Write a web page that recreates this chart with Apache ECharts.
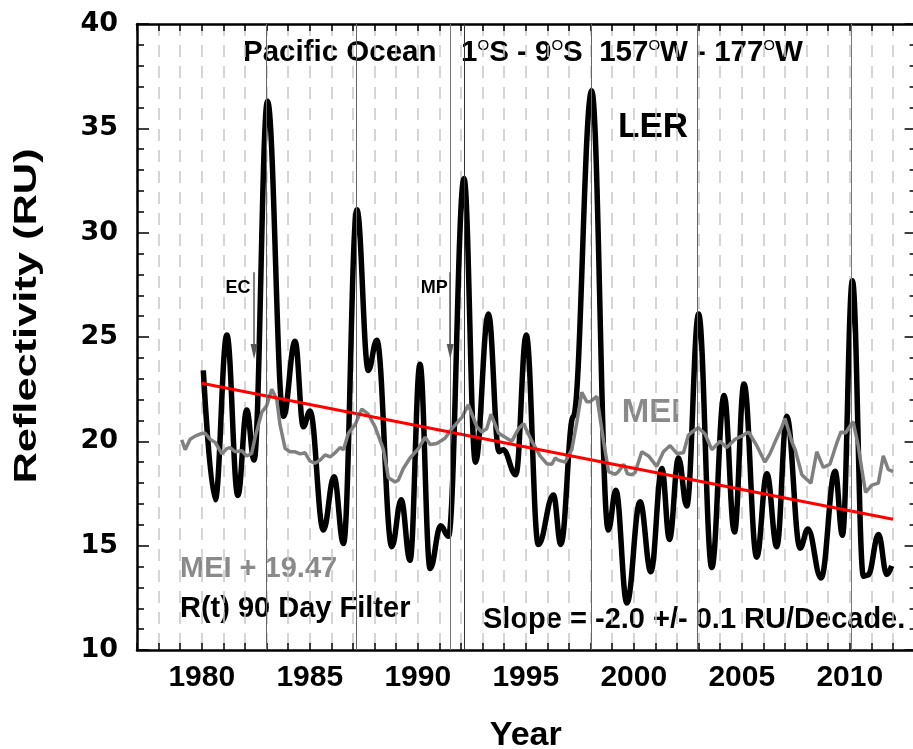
<!DOCTYPE html>
<html>
<head>
<meta charset="utf-8">
<script src="https://cdn.jsdelivr.net/npm/echarts@6/dist/echarts.min.js"></script>
<style>
  html, body { margin: 0; padding: 0; background: #fff; }
  #chart { width: 913px; height: 749px; }
</style>
</head>
<body>
<div id="chart"></div>
<script>
// LER, 90 day filter (turning points)
const lerYears = [1980.07, 1980.62, 1981.16, 1981.67, 1982.08, 1982.42, 1983.04, 1983.78, 1984.32, 1984.70,
  1985.01, 1985.63, 1986.12, 1986.56, 1987.18, 1987.71, 1988.10, 1988.80, 1989.23, 1989.64,
  1990.10, 1990.57, 1991.06, 1991.42, 1992.14, 1992.67, 1993.27, 1993.76, 1993.95, 1994.54,
  1995.02, 1995.58, 1996.28, 1996.62, 1997.20, 1998.05, 1998.82, 1999.17, 1999.68, 2000.29,
  2000.79, 2001.30, 2001.65, 2002.07, 2002.45, 2003.00, 2003.61, 2004.18, 2004.66, 2005.10,
  2005.69, 2006.16, 2006.62, 2007.08, 2007.70, 2008.06, 2008.67, 2009.32, 2009.66, 2010.12,
  2010.63, 2010.85, 2011.33, 2011.71, 2011.94]
const lerValues = [23.4, 17.2, 25.1, 17.4, 21.5, 19.1, 36.3, 21.2, 24.8, 20.7,
  21.45, 15.75, 18.3, 15.1, 31.1, 23.4, 24.85, 14.95, 17.2, 14.3,
  23.7, 13.9, 15.95, 15.45, 32.6, 19.0, 26.1, 19.5, 19.6, 18.4,
  25.1, 15.05, 17.43, 15.06, 21.2, 36.8, 15.75, 17.65, 12.25, 17.1,
  13.75, 18.7, 15.3, 19.2, 16.9, 26.1, 13.95, 22.2, 15.65, 22.75,
  14.45, 18.45, 14.95, 21.2, 14.88, 15.8, 13.45, 18.57, 15.5, 27.7,
  13.53, 13.6, 15.53, 13.62, 14.03]

// MEI + 19.47
const meiYears = [1979.07, 1979.23, 1979.46, 1979.69, 1979.92, 1980.15, 1980.38, 1980.62, 1980.93, 1981.16,
  1981.31, 1981.54, 1981.85, 1982.08, 1982.31, 1982.47, 1982.78, 1983.00, 1983.24, 1983.47,
  1983.62, 1983.86, 1984.09, 1984.32, 1984.55, 1984.78, 1985.01, 1985.24, 1985.48, 1985.71,
  1985.94, 1986.17, 1986.40, 1986.56, 1986.79, 1987.10, 1987.41, 1987.71, 1988.02, 1988.41,
  1988.64, 1988.95, 1989.10, 1989.33, 1989.64, 1990.03, 1990.34, 1990.57, 1990.88, 1991.26,
  1991.57, 1992.04, 1992.34, 1992.73, 1992.96, 1993.19, 1993.39, 1993.73, 1994.04, 1994.35,
  1994.66, 1994.89, 1995.28, 1995.66, 1995.97, 1996.20, 1996.36, 1996.51, 1996.82, 1997.13,
  1997.36, 1997.59, 1997.82, 1997.98, 1998.29, 1998.60, 1998.83, 1999.14, 1999.29, 1999.54,
  1999.70, 1999.91, 2000.06, 2000.37, 2000.68, 2001.06, 2001.37, 2001.68, 2001.99, 2002.30,
  2002.53, 2002.76, 2002.99, 2003.30, 2003.61, 2003.99, 2004.30, 2004.69, 2005.08, 2005.31,
  2005.69, 2006.07, 2006.30, 2006.55, 2006.84, 2007.00, 2007.31, 2007.47, 2007.78, 2007.98,
  2008.20, 2008.47, 2008.77, 2009.08, 2009.39, 2009.59, 2009.80, 2010.15, 2010.38, 2010.55,
  2010.73, 2011.02, 2011.32, 2011.55, 2011.78, 2012.00]
const meiValues = [20.07, 19.6, 20.1, 20.25, 20.35, 20.4, 20.1, 19.95, 19.4, 19.65,
  19.7, 19.5, 19.55, 19.3, 19.42, 20.2, 21.4, 21.7, 22.5, 22.0,
  20.8, 19.65, 19.5, 19.5, 19.4, 19.45, 19.05, 18.95, 19.1, 19.35,
  19.25, 19.45, 19.7, 19.6, 20.4, 20.8, 21.55, 21.3, 20.7, 19.6,
  18.25, 18.05, 18.15, 18.7, 19.2, 19.65, 20.2, 19.85, 19.9, 20.15,
  20.6, 21.15, 21.75, 20.7, 20.45, 20.6, 21.3, 20.4, 20.2, 20.0,
  20.6, 20.85, 20.0, 19.3, 18.93, 18.9, 19.2, 19.1, 19.0, 19.6,
  20.9, 22.35, 21.9, 21.9, 22.15, 20.0, 18.55, 18.42, 18.55, 18.9,
  18.45, 18.4, 18.5, 19.5, 19.3, 18.8, 19.5, 19.8, 19.42, 19.45,
  20.3, 20.5, 20.65, 20.35, 19.6, 20.0, 19.7, 20.1, 20.3, 20.45,
  19.8, 19.0, 19.4, 20.0, 20.65, 21.1, 20.0, 19.6, 18.4, 18.2,
  18.0, 19.5, 18.75, 18.9, 19.9, 20.45, 20.4, 20.95, 19.85, 18.7,
  17.55, 17.9, 18.0, 19.3, 18.65, 18.55]

// linear fit, -2.0 RU/decade
const trendYears = [1980.0, 2012.0]
const trendValues = [22.78, 16.27]

// thin vertical markers at the LER peaks
const eventYears = [1983.0, 1987.17, 1991.5, 1992.13, 1998.04, 2002.94, 2010.05]
const eventColors = ['#666', '#666', '#777', '#333', '#666', '#666', '#777']

// volcanic eruptions: El Chichon, Mt Pinatubo
const eruptionNames = ['EC', 'MP']
const eruptionYears = [1982.42, 1991.5]

const xTicks = { min: 1977, max: 2013, interval: 1 }
const yTicks = { min: 10, max: 40, interval: 5 }

const font = 'Liberation Sans'
const zip = (xs, ys) => xs.map((x, i) => [x, ys[i]])

const chart = echarts.init(document.getElementById('chart'))

const frameLine = { show: true, onZero: false, lineStyle: { color: '#000', width: 2.5 } }

const option = {
  animation: false,
  backgroundColor: '#fff',
  grid: { left: 137, top: 24, width: 777.6, height: 626, containLabel: false, outerBoundsMode: 'none' },
  xAxis: [
    {
      type: 'value', ...xTicks, position: 'bottom',
      axisLine: frameLine,
      axisTick: { show: true, inside: true, length: 7, lineStyle: { color: '#000', width: 1.5 } },
      axisLabel: {
        margin: 13, fontSize: 30, fontWeight: 'bold', fontFamily: font, color: '#000',
        formatter: v => (v % 5 === 0 ? String(v) : '')
      },
      splitLine: { show: true, lineStyle: { color: '#c8c8c8', width: 1.5, type: [12, 9] } },
      name: 'Year', nameLocation: 'middle', nameGap: 69,
      nameTextStyle: { fontSize: 34, fontWeight: 'bold', fontFamily: font, color: '#000' }
    },
    {
      type: 'value', ...xTicks, position: 'top',
      axisLine: frameLine,
      axisTick: { show: true, inside: true, length: 7, lineStyle: { color: '#000', width: 1.5 } },
      axisLabel: { show: false },
      splitLine: { show: false }
    }
  ],
  yAxis: [
    {
      type: 'value', ...yTicks, position: 'left',
      axisLine: frameLine,
      axisTick: { show: true, inside: true, length: 12, lineStyle: { color: '#000', width: 1.5 } },
      minorTick: { show: true, splitNumber: 5, length: 7, lineStyle: { color: '#000', width: 1.5 } },
      axisLabel: { margin: 19, fontSize: 27, fontWeight: 'bold', fontFamily: 'DejaVu Sans', color: '#000' },
      splitLine: { show: false }
    },
    {
      type: 'value', ...yTicks, position: 'right',
      axisLine: frameLine,
      axisTick: { show: true, inside: true, length: 10, lineStyle: { color: '#000', width: 1.5 } },
      minorTick: { show: true, splitNumber: 5, length: 5, lineStyle: { color: '#000', width: 1.5 } },
      axisLabel: { show: false },
      splitLine: { show: false }
    }
  ],
  series: [
    {
      name: 'LER', type: 'line', xAxisIndex: 0, yAxisIndex: 0, z: 2,
      data: zip(lerYears, lerValues),
      showSymbol: false, smooth: 0.4, smoothMonotone: 'x',
      lineStyle: { color: '#000', width: 5.5 }
    },
    {
      name: 'MEI', type: 'line', xAxisIndex: 0, yAxisIndex: 0, z: 3,
      data: zip(meiYears, meiValues),
      showSymbol: false,
      lineStyle: { color: '#808080', width: 3.5 }
    },
    {
      name: 'Trend', type: 'line', xAxisIndex: 0, yAxisIndex: 0, z: 4,
      data: zip(trendYears, trendValues),
      showSymbol: false,
      lineStyle: { color: '#ff0000', width: 3 }
    },
    {
      name: 'markers', type: 'line', xAxisIndex: 0, yAxisIndex: 0, z: 5,
      data: [],
      markLine: {
        silent: true, animation: false,
        symbol: ['none', 'none'],
        label: { show: false },
        data: [
          ...eventYears.map((yr, i) => ({ xAxis: yr, lineStyle: { color: eventColors[i], width: 1, type: 'solid' } })),
          ...eruptionYears.map((yr, i) => [
            { coord: [yr, 28.1], symbol: 'none' },
            {
              coord: [yr, 24.3], symbol: 'triangle', symbolSize: [7, 15],
              lineStyle: { color: '#555', width: 1.5, type: 'solid' },
              itemStyle: { color: '#333' },
              label: {
                show: true, position: 'start', formatter: eruptionNames[i],
                fontSize: 18, fontWeight: 'bold', fontFamily: font, color: '#000',
                offset: [-16, 30]
              }
            }
          ])
        ]
      }
    }
  ],
  graphic: [
    {
      type: 'text', x: 243, y: 53,
      style: {
        text: '{n|Pacific Ocean   1}{s|O}{n|S - 9}{s|O}{n|S  157}{s|O}{n|W - 177}{s|O}{n|W}',
        verticalAlign: 'middle',
        rich: {
          n: { fontSize: 29.5, fontWeight: 'bold', fontFamily: font, fill: '#000', lineHeight: 30 },
          s: { fontSize: 15, fontFamily: font, fill: '#000', verticalAlign: 'top', lineHeight: 14 }
        }
      }
    },
    {
      type: 'text', x: 27.5, y: 316, rotation: Math.PI / 2, scaleX: 1.4,
      style: { text: 'Reflectivity (RU)', fontSize: 31, fontWeight: 'bold', fontFamily: font, fill: '#000', align: 'center', verticalAlign: 'middle' }
    },
    {
      type: 'text', x: 653, y: 127.5,
      style: { text: 'LER', fontSize: 35, fontWeight: 'bold', fontFamily: font, fill: '#000', align: 'center', verticalAlign: 'middle' }
    },
    {
      type: 'text', x: 651, y: 413,
      style: { text: 'MEI', fontSize: 33, fontWeight: 'bold', fontFamily: font, fill: '#8a8a8a', align: 'center', verticalAlign: 'middle' }
    },
    {
      type: 'text', x: 180, y: 569,
      style: { text: 'MEI + 19.47', fontSize: 29, fontWeight: 'bold', fontFamily: font, fill: '#8a8a8a', verticalAlign: 'middle' }
    },
    {
      type: 'text', x: 180, y: 608.5,
      style: { text: 'R(t) 90 Day Filter', fontSize: 29, fontWeight: 'bold', fontFamily: font, fill: '#000', verticalAlign: 'middle' }
    },
    {
      type: 'text', x: 483, y: 619.5,
      style: { text: 'Slope = -2.0 +/- 0.1 RU/Decade.', fontSize: 29, fontWeight: 'bold', fontFamily: font, fill: '#000', verticalAlign: 'middle' }
    }
  ]
}

chart.setOption(option)
</script>
</body>
</html>
